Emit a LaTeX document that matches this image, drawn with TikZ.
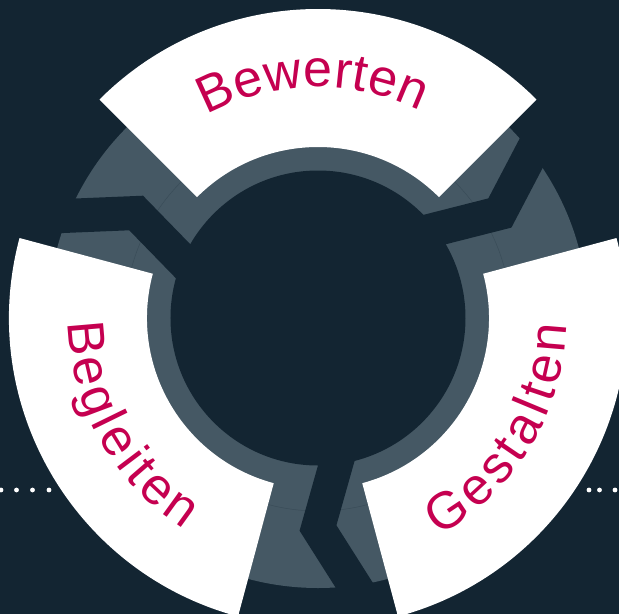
\documentclass[tikz,border=0pt]{standalone}
\usepackage{fontspec}
\setmainfont{Liberation Sans}
\usetikzlibrary{decorations.text}
\definecolor{bgnavy}{HTML}{132532}
\definecolor{ringgray}{HTML}{455864}
\definecolor{seamgray}{HTML}{3A4C58}
\definecolor{labelmag}{HTML}{C50050}
\newcommand{\lblfont}{\fontsize{52}{54}\selectfont}
\tikzset{
  sectorfill/.style={fill=white},
  crackline/.style={draw=bgnavy, line width=34, line join=miter, line cap=butt},
  label/.style={decorate, decoration={text along path, text color=labelmag,
      text align=fit to path, text={|\lblfont|#1}}},
  dotmark/.style={fill=white}
}
\begin{document}
\begin{tikzpicture}[x=1pt,y=1pt]
\fill[bgnavy] (-318,-296) rectangle (301,318);
\useasboundingbox (-318,-296) rectangle (301,318);
% gray ring and gap pieces
\fill[ringgray] (0,0) circle (270);
\draw[seamgray, line width=0.5] (0,0) circle (193);
\fill[bgnavy] (0,0) circle (147.5);
% cracks
\foreach \g in {30,150,270} {
  \begin{scope}[rotate=\g-270]
    \coordinate (ci) at (24.3,-123.9);
    \coordinate (ck) at (0,-210);
    \coordinate (co) at (46.2,-282.9);
    \draw[crackline] (ci) -- (ck) -- (co);
  \end{scope}
}
% white sectors
\foreach \a in {45,165,285} {
  \fill[sectorfill] (\a:171) arc[start angle=\a, end angle=\a+90, radius=171]
     -- (\a+90:309) arc[start angle=\a+90, end angle=\a, radius=309] -- cycle;
}
% labels
\path[label=Bewerten] (118.8:231) arc[start angle=118.8, end angle=63.8, radius=231];
\path[label=Gestalten] (-61:249) arc[start angle=-61, end angle=-1.5, radius=249];
\path[label=Begleiten] (181:250) arc[start angle=181, end angle=237.5, radius=250];
% dotted lines
\foreach \x in {-317,-301.5,-285.5,-269,271,281.5,297} {
  \fill[dotmark] (\x,-172) circle (2.4);
}
\end{tikzpicture}
\end{document}
